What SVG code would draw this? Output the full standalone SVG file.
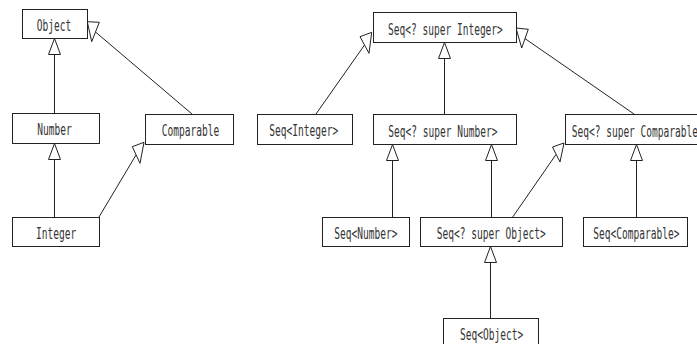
<svg xmlns="http://www.w3.org/2000/svg" width="697" height="344" viewBox="0 0 697 344">
<style>
.box rect{fill:#fff;stroke:#222;stroke-width:1}
.box text{font-family:"DejaVu Sans Mono",monospace;font-size:15.5px;fill:#333}
.edges line{stroke:#222;stroke-width:1}
.edges polygon{fill:#fff;stroke:#222;stroke-width:1}
</style>
<rect width="697" height="344" fill="#fff"/>
<g class="edges" id="connectors">
<line x1="54.5" y1="113" x2="54.5" y2="54"/><polygon points="54.5,38.5 48.5,54.5 60.5,54.5"/>
<line x1="54.5" y1="217" x2="54.5" y2="159"/><polygon points="54.5,143.5 48.5,159.5 60.5,159.5"/>
<line x1="192" y1="114" x2="95.5" y2="32"/><polygon points="87.3,21.7 99.3,22.3 91.7,41.7"/>
<line x1="99" y1="217" x2="136" y2="155"/><polygon points="132.3,146.7 144,142.3 140,163.3"/>
<line x1="316" y1="114" x2="364.5" y2="45"/><polygon points="360,36.7 371.7,32.3 369,53.3"/>
<line x1="444.5" y1="114" x2="444.5" y2="58"/><polygon points="444.5,42.5 438.5,58.5 450.5,58.5"/>
<line x1="634" y1="114" x2="525" y2="38.6"/><polygon points="516,28 528.3,29.3 521.7,48"/>
<line x1="392.5" y1="217" x2="392.5" y2="160"/><polygon points="392.5,144.5 386.5,160.5 398.5,160.5"/>
<line x1="491.5" y1="217" x2="491.5" y2="160"/><polygon points="491.5,144.5 485.5,160.5 497.5,160.5"/>
<line x1="512.7" y1="217" x2="556" y2="154.5"/><polygon points="552.5,147 564,143 560,162"/>
<line x1="636.5" y1="217" x2="636.5" y2="160"/><polygon points="636.5,144.5 630.5,160.5 642.5,160.5"/>
<line x1="490.5" y1="318" x2="490.5" y2="262"/><polygon points="490.5,246.5 484.5,262.5 496.5,262.5"/>
</g>
<g class="box" id="object"><rect x="22.5" y="9.5" width="65" height="29"/><text transform="translate(36.7,31) scale(0.616,1)">Object</text></g>
<g class="box" id="number"><rect x="12.5" y="113.5" width="87" height="30"/><text transform="translate(37.3,135) scale(0.616,1)">Number</text></g>
<g class="box" id="comparable"><rect x="145.5" y="114.5" width="88" height="30"/><text transform="translate(161.7,136) scale(0.616,1)">Comparable</text></g>
<g class="box" id="integer"><rect x="12.5" y="217.5" width="87" height="29"/><text transform="translate(36,238.5) scale(0.616,1)">Integer</text></g>
<g class="box" id="seq-super-integer"><rect x="373.5" y="12.5" width="143" height="30"/><text transform="translate(388,34.5) scale(0.616,1)">Seq&lt;? super Integer&gt;</text></g>
<g class="box" id="seq-integer"><rect x="257.5" y="114.5" width="95" height="30"/><text transform="translate(269.3,136) scale(0.616,1)">Seq&lt;Integer&gt;</text></g>
<g class="box" id="seq-super-number"><rect x="373.5" y="114.5" width="143" height="30"/><text transform="translate(388.3,136.5) scale(0.616,1)">Seq&lt;? super Number&gt;</text></g>
<g class="box" id="seq-super-comparable"><rect x="565.5" y="114.5" width="144" height="30"/><text transform="translate(571.7,136.5) scale(0.616,1)">Seq&lt;? super Comparable&gt;</text></g>
<g class="box" id="seq-number"><rect x="322.5" y="217.5" width="87" height="29"/><text transform="translate(334.3,239) scale(0.616,1)">Seq&lt;Number&gt;</text></g>
<g class="box" id="seq-super-object"><rect x="420.5" y="217.5" width="142" height="29"/><text transform="translate(436.7,239) scale(0.616,1)">Seq&lt;? super Object&gt;</text></g>
<g class="box" id="seq-comparable"><rect x="583.5" y="217.5" width="104" height="29"/><text transform="translate(593.3,239) scale(0.616,1)">Seq&lt;Comparable&gt;</text></g>
<g class="box" id="seq-object"><rect x="443.5" y="318.5" width="95" height="28"/><text transform="translate(460,340) scale(0.616,1)">Seq&lt;Object&gt;</text></g>
</svg>
